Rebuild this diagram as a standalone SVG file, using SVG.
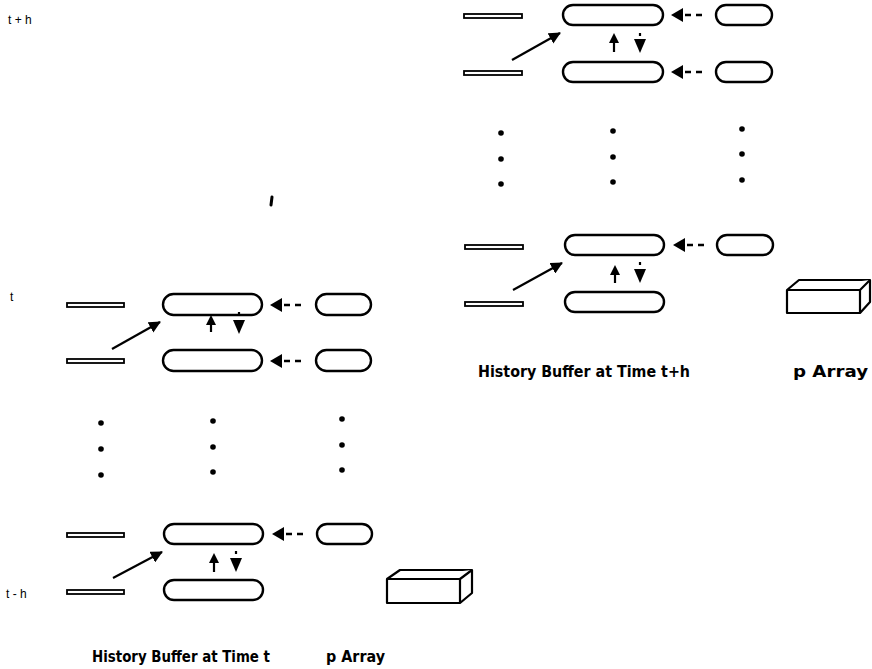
<svg xmlns="http://www.w3.org/2000/svg" width="872" height="669" viewBox="0 0 872 669">
<defs>
<style>
.bar{fill:#fff;stroke:#000;stroke-width:1.8}
.rr{fill:#fff;stroke:#000;stroke-width:2.4}
.ln{stroke:#000;stroke-width:2.2;fill:none}
.dash{stroke:#000;stroke-width:2.4;stroke-dasharray:6 5;fill:none}
.hd{fill:#000}
.dot{fill:#000}
.lbl{font-family:"DejaVu Sans",sans-serif;font-weight:bold;font-size:16px;fill:#000}
.tl{font-family:"Liberation Sans",sans-serif;font-size:12px;fill:#000}
.box{fill:#fff;stroke:#000;stroke-width:2.2;stroke-linejoin:round}
</style>
<marker id="ah" viewBox="0 0 12 12" refX="11" refY="6" markerWidth="12" markerHeight="12" markerUnits="userSpaceOnUse" orient="auto">
<path d="M0,0 L12,6 L0,12 z" fill="#000"/>
</marker>
</defs>

<g id="time-labels">
<text class="tl" x="8" y="24">t + h</text>
<text class="tl" x="10" y="301">t</text>
<text class="tl" x="6" y="598">t - h</text>
<path d="M272,197 L271,205" stroke="#000" stroke-width="3" stroke-linecap="round"/>
</g>

<!-- Left block: History Buffer at Time t -->
<g id="buffer-t">
<g id="t-row1">
<rect class="bar" x="67" y="303" width="57" height="4"/>
<rect class="rr" x="163" y="294" width="99" height="21" rx="10.5"/>
<rect class="rr" x="316" y="294" width="55" height="21" rx="10.5"/>
</g>
<g id="t-row2">
<rect class="bar" x="67" y="359" width="57" height="4"/>
<rect class="rr" x="163" y="350" width="99" height="21" rx="10.5"/>
<rect class="rr" x="316" y="350" width="55" height="21" rx="10.5"/>
</g>
<g id="t-row3">
<rect class="bar" x="67" y="533" width="57" height="4"/>
<rect class="rr" x="164" y="524" width="99" height="20" rx="10"/>
<rect class="rr" x="317" y="524" width="55" height="20" rx="10"/>
</g>
<g id="t-row4">
<rect class="bar" x="67" y="590" width="57" height="4"/>
<rect class="rr" x="164" y="580" width="99" height="20" rx="10"/>
</g>
<g id="t-dots">
<circle class="dot" cx="101" cy="423" r="2.8"/>
<circle class="dot" cx="101" cy="449" r="2.8"/>
<circle class="dot" cx="101" cy="475" r="2.8"/>
<circle class="dot" cx="213" cy="421" r="2.8"/>
<circle class="dot" cx="213" cy="447" r="2.8"/>
<circle class="dot" cx="213" cy="472" r="2.8"/>
<circle class="dot" cx="342" cy="419" r="2.8"/>
<circle class="dot" cx="342" cy="445" r="2.8"/>
<circle class="dot" cx="342" cy="470" r="2.8"/>
</g>
<g id="t-parray">
<path class="box" d="M387,579 L400,570 L472,570 L472,593 L460,603 L387,603 Z"/>
<path class="box" d="M387,579 L460,579 L472,570 M460,579 L460,603"/>
</g>
<text class="lbl" x="92" y="662" textLength="178" lengthAdjust="spacingAndGlyphs">History Buffer at Time t</text>
<text class="lbl" x="326" y="662" textLength="59" lengthAdjust="spacingAndGlyphs">p Array</text>
</g>

<!-- Right block: History Buffer at Time t+h -->
<g id="buffer-th">
<g id="th-row1">
<rect class="bar" x="464" y="14" width="58" height="4"/>
<rect class="rr" x="563" y="5" width="100" height="20" rx="10"/>
<rect class="rr" x="716" y="5" width="56" height="20" rx="10"/>
</g>
<g id="th-row2">
<rect class="bar" x="464" y="71" width="58" height="4"/>
<rect class="rr" x="563" y="62" width="100" height="20" rx="10"/>
<rect class="rr" x="716" y="62" width="56" height="20" rx="10"/>
</g>
<g id="th-row3">
<rect class="bar" x="465" y="245" width="58" height="4"/>
<rect class="rr" x="565" y="235" width="99" height="20" rx="10"/>
<rect class="rr" x="717" y="235" width="56" height="20" rx="10"/>
</g>
<g id="th-row4">
<rect class="bar" x="465" y="302" width="58" height="4"/>
<rect class="rr" x="565" y="292" width="99" height="20" rx="10"/>
</g>
<g id="th-dots">
<circle class="dot" cx="501" cy="133" r="2.8"/>
<circle class="dot" cx="501" cy="159" r="2.8"/>
<circle class="dot" cx="501" cy="184" r="2.8"/>
<circle class="dot" cx="613" cy="131" r="2.8"/>
<circle class="dot" cx="613" cy="157" r="2.8"/>
<circle class="dot" cx="613" cy="182" r="2.8"/>
<circle class="dot" cx="742" cy="129" r="2.8"/>
<circle class="dot" cx="742" cy="154" r="2.8"/>
<circle class="dot" cx="742" cy="180" r="2.8"/>
</g>
<g id="th-parray">
<path class="box" d="M787,290 L799,280 L870,280 L870,302 L860,313 L787,313 Z"/>
<path class="box" d="M787,290 L860,290 L870,280 M860,290 L860,313"/>
</g>
<text class="lbl" x="478" y="377" textLength="212" lengthAdjust="spacingAndGlyphs">History Buffer at Time t+h</text>
<text class="lbl" x="793" y="377" textLength="75" lengthAdjust="spacingAndGlyphs">p Array</text>
</g>

<g id="connectors">
<!-- left block -->
<path class="dash" d="M284,305 L305,305"/>
<path class="hd" d="M270,305 L282,298 L282,312 Z"/>
<path class="dash" d="M284,361 L305,361"/>
<path class="hd" d="M270,361 L282,354 L282,368 Z"/>
<path class="dash" d="M286,534 L307,534"/>
<path class="hd" d="M272,534 L284,527 L284,541 Z"/>
<path class="ln" d="M112,349 L160,322" marker-end="url(#ah)"/>
<path class="ln" d="M113,578 L162,552" marker-end="url(#ah)"/>
<!-- up/down pairs left -->
<path class="ln" d="M211,332 L211,322"/>
<path class="hd" d="M211,315 L206,325 L216,325 Z"/>
<path class="ln" d="M239,312 L239,315"/>
<path class="hd" d="M239,334 L233,320 L245,320 Z"/>
<path class="ln" d="M214,572 L214,561"/>
<path class="hd" d="M214,553 L209,563 L219,563 Z"/>
<path class="ln" d="M236,551 L236,554"/>
<path class="hd" d="M236,572 L230,558 L242,558 Z"/>
<!-- right block -->
<path class="dash" d="M685,15 L706,15"/>
<path class="hd" d="M671,15 L683,8 L683,22 Z"/>
<path class="dash" d="M685,72 L706,72"/>
<path class="hd" d="M671,72 L683,65 L683,79 Z"/>
<path class="dash" d="M687,245 L708,245"/>
<path class="hd" d="M673,245 L685,238 L685,252 Z"/>
<path class="ln" d="M512,60 L560,33" marker-end="url(#ah)"/>
<path class="ln" d="M513,290 L562,263" marker-end="url(#ah)"/>
<path class="ln" d="M614,52 L614,41"/>
<path class="hd" d="M614,33 L609,43 L619,43 Z"/>
<path class="ln" d="M640,33 L640,36"/>
<path class="hd" d="M640,53 L634,39 L646,39 Z"/>
<path class="ln" d="M615,283 L615,273"/>
<path class="hd" d="M615,265 L610,275 L620,275 Z"/>
<path class="ln" d="M640,262 L640,265"/>
<path class="hd" d="M640,283 L634,269 L646,269 Z"/>
</g>
</svg>
